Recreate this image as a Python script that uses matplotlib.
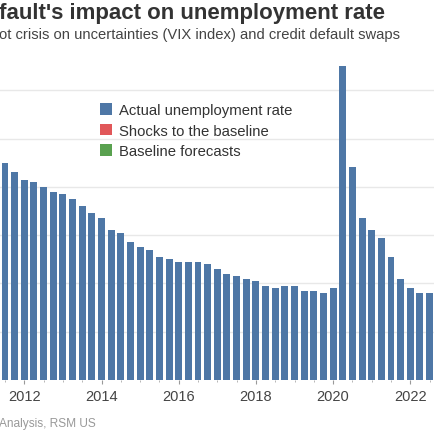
import matplotlib
matplotlib.use('Agg')
from matplotlib import pyplot as plt
from matplotlib.patches import Patch
from matplotlib.ticker import MultipleLocator

plt.rcParams['font.family'] = ['Liberation Sans', 'DejaVu Sans']

# Quarterly unemployment rate (%), 2011Q3 .. 2022Q3
quarters = [2011.5 + 0.25 * i for i in range(45)]
unemployment = [9.0, 8.6,
                8.3, 8.2, 8.0, 7.8,
                7.7, 7.5, 7.2, 6.9,
                6.7, 6.2, 6.1, 5.7,
                5.5, 5.4, 5.1, 5.0,
                4.9, 4.9, 4.9, 4.8,
                4.6, 4.4, 4.3, 4.2,
                4.1, 3.9, 3.8, 3.9,
                3.9, 3.7, 3.7, 3.6,
                3.8, 13.0, 8.8, 6.7,
                6.2, 5.9, 5.1, 4.2,
                3.8, 3.6, 3.6]
year_ticks = [2012, 2014, 2016, 2018, 2020, 2022]
legend_labels = ['Actual unemployment rate', 'Shocks to the baseline', 'Baseline forecasts']
legend_colors = ['#4e77a6', '#e15759', '#59a14f']

W, H = 435, 435
fig = plt.figure(figsize=(4.35, 4.35), dpi=100)
ax = fig.add_axes([0, (H - 381) / H, 1, (381 - 42.9) / H])

ax.bar(quarters, unemployment, width=0.18, align='center',
       color='#4e77a6', edgecolor='none', linewidth=0, zorder=2)

ax.set_xlim(2011.5 - 5 / 38.6, 2011.5 + 430 / 38.6)
ax.set_ylim(0, 14)
ax.set_yticks([2, 4, 6, 8, 10, 12])
ax.yaxis.grid(True, color='#e8e8e8', linewidth=1, zorder=0)
ax.tick_params(axis='y', left=False, labelleft=False)

ax.set_xticks(year_ticks)
ax.set_xticklabels([str(y) for y in year_ticks])
ax.xaxis.set_minor_locator(MultipleLocator(0.5))
ax.tick_params(axis='x', which='major', length=3, color='#999999',
               labelsize=10.5, labelcolor='#444444', pad=3.5)
ax.tick_params(axis='x', which='minor', length=1.5, color='#aaaaaa')
for s in ax.spines.values():
    s.set_visible(False)

handles = [Patch(facecolor=c, edgecolor='none') for c in legend_colors]
fig.legend(handles, legend_labels, loc='upper left',
           bbox_to_anchor=(100 / W, 1 - 104 / H), frameon=False,
           fontsize=10.7, handlelength=0.84, handleheight=0.84,
           handletextpad=0.42, labelspacing=0.45, borderpad=0,
           borderaxespad=0, labelcolor='#333333')

fig.text(-0.002, 1 - 14 / H, "fault's impact on unemployment rate",
         fontsize=16, fontweight='bold', color='#333333', va='center', ha='left')
fig.text(-0.002, 1 - 35.5 / H, "ot crisis on uncertainties (VIX index) and credit default swaps",
         fontsize=10.6, color='#444444', va='center', ha='left')
fig.text(-0.002, 1 - 424 / H, "Analysis, RSM US",
         fontsize=8.6, color='#999999', va='center', ha='left')

fig.savefig('out.png', dpi=100)
